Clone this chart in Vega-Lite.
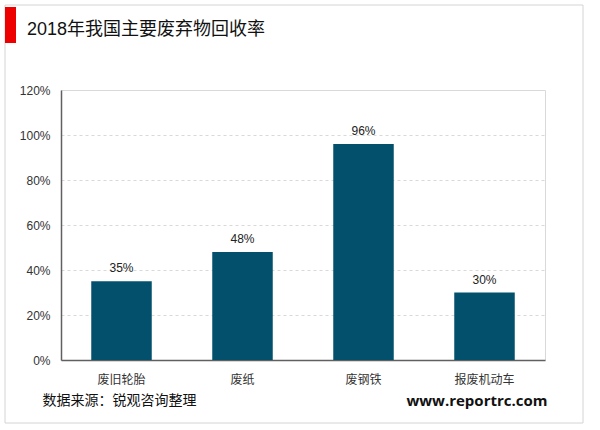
{
  "$schema": "https://vega.github.io/schema/vega-lite/v6.json",
  "width": 484,
  "height": 270,
  "autosize": {"type": "none"},
  "padding": {"left": 61, "top": 90, "right": 55, "bottom": 70},
  "background": "white",
  "title": {
    "text": "2018年我国主要废弃物回收率",
    "anchor": "start",
    "frame": "group",
    "dx": -34,
    "dy": 38,
    "fontSize": 18,
    "fontWeight": "normal",
    "color": "#111111",
    "font": "Liberation Sans, Noto Sans CJK SC"
  },
  "config": {
    "font": "Liberation Sans, Noto Sans CJK SC",
    "view": {"stroke": "#d9d9d9", "strokeWidth": 1}
  },
  "data": {
    "values": [
      {"类别": "废旧轮胎", "回收率": 0.35},
      {"类别": "废纸", "回收率": 0.48},
      {"类别": "废钢铁", "回收率": 0.96},
      {"类别": "报废机动车", "回收率": 0.30}
    ]
  },
  "layer": [
    {
      "data": {"values": [{}]},
      "mark": {"type": "rect", "fill": "transparent", "stroke": "#d4d4d4", "strokeWidth": 1, "clip": false},
      "encoding": {
        "x": {"value": -56},
        "x2": {"value": 522},
        "y": {"value": -85},
        "y2": {"value": 333}
      }
    },
    {
      "data": {"values": [{}]},
      "mark": {"type": "rect", "fill": "#ee0000", "clip": false},
      "encoding": {
        "x": {"value": -56},
        "x2": {"value": -45},
        "y": {"value": -83},
        "y2": {"value": -47}
      }
    },
    {
      "mark": {"type": "bar", "color": "#02506b"},
      "encoding": {
        "x": {
          "field": "类别",
          "type": "nominal",
          "sort": null,
          "scale": {"paddingInner": 0.5, "paddingOuter": 0.25},
          "axis": {
            "title": "www.reportrc.com",
            "titleX": 486,
            "titleY": 40,
            "titleAlign": "right",
            "titleAnchor": null,
            "titleBaseline": "middle",
            "titleFont": "Open Sans",
            "titleFontSize": 15,
            "titleFontWeight": "bold",
            "titleColor": "#111111",
            "labelAngle": 0,
            "labelFontSize": 12,
            "labelColor": "#333333",
            "labelPadding": 14,
            "ticks": false,
            "domainColor": "#606060",
            "domainWidth": 1.5
          }
        },
        "y": {
          "field": "回收率",
          "type": "quantitative",
          "scale": {"domain": [0, 1.2], "nice": false},
          "axis": {
            "title": "数据来源：锐观咨询整理",
            "titleAngle": 0,
            "titleX": -19,
            "titleY": 310,
            "titleAlign": "left",
            "titleAnchor": null,
            "titleBaseline": "middle",
            "titleFontSize": 14,
            "titleFontWeight": "normal",
            "titleColor": "#111111",
            "values": [0, 0.2, 0.4, 0.6, 0.8, 1.0, 1.2],
            "format": ".0%",
            "labelFontSize": 12,
            "labelColor": "#333333",
            "labelPadding": 11,
            "ticks": false,
            "domainColor": "#606060",
            "domainWidth": 1.5,
            "gridColor": "#d9d9d9",
            "gridDash": [3, 3]
          }
        }
      }
    },
    {
      "mark": {"type": "text", "dy": -6, "fontSize": 12, "color": "#222222", "baseline": "bottom"},
      "encoding": {
        "x": {"field": "类别", "type": "nominal", "sort": null},
        "y": {"field": "回收率", "type": "quantitative"},
        "text": {"field": "回收率", "type": "quantitative", "format": ".0%"}
      }
    }
  ]
}
